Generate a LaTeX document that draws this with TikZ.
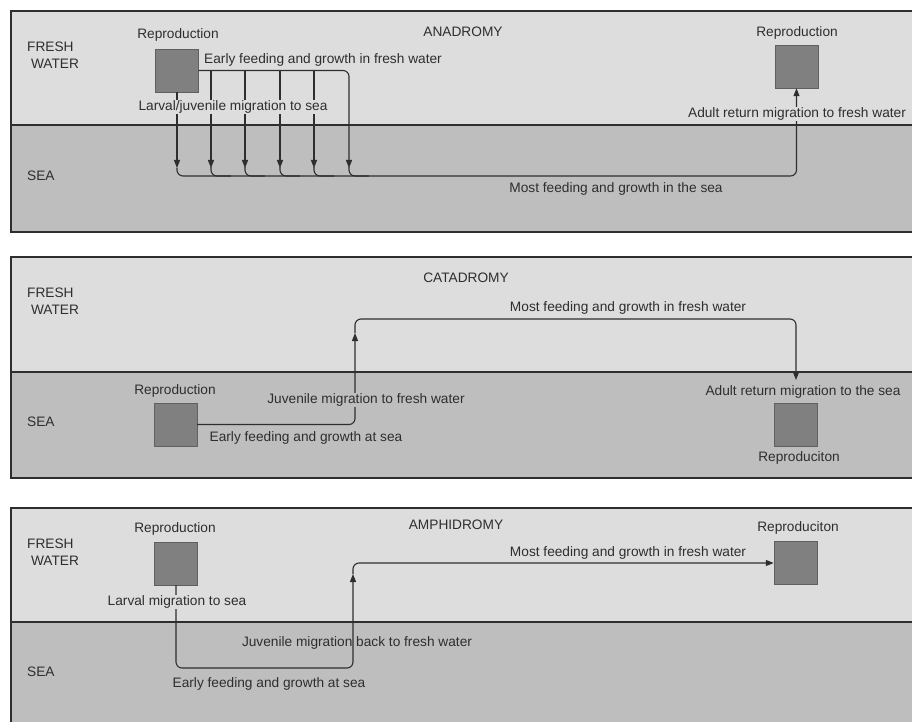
\documentclass[tikz,border=0pt]{standalone}
\usepackage{fontspec}
\setmainfont{Liberation Sans}
\usetikzlibrary{arrows.meta}
\definecolor{fresh}{HTML}{DDDDDD}
\definecolor{salt}{HTML}{BEBEBE}
\definecolor{repro}{HTML}{808080}
\definecolor{ink}{HTML}{2E2E2E}
\begin{document}
\begin{tikzpicture}[x=1pt,y=-1pt,every node/.style={font=\fontsize{13.7}{17}\selectfont,text=ink,inner sep=1pt},
	reprobox/.style={draw=repro!75!black,fill=repro,minimum width=43pt,minimum height=43pt,inner sep=0pt},
	flow/.style={draw=ink,line width=1.1pt,rounded corners=6pt},
	tip/.style={-{Triangle[length=8pt,width=6pt]}}]
		\useasboundingbox(0,0)rectangle(912,722);
		% the three panels
		\foreach\t/\m/\b in{11/125.5/232,257/372/478,508/622/740}{
			\fill[fresh](11,\t)rectangle(930,\m);
			\fill[salt](11,\m)rectangle(930,\b);
			\draw[ink,line width=2pt](11,\t)rectangle(930,\b);
			\draw[ink,line width=2pt](11,\m)--(930,\m);
			\node[anchor=west,align=left]at(26,\t+44){FRESH\\ \ WATER};
			\node[anchor=west]at(26,\m+50){SEA};}
		% boxes
		\node[reprobox](R1)at(177,70.5){};
		\node[reprobox](R1')at(796.5,66.5){};
		\node[reprobox](R2)at(175.5,424.5){};
		\node[reprobox](R2')at(795.5,424.5){};
		\node[reprobox](R3)at(176,563.5){};
		\node[reprobox](R3')at(795.5,563){};
		% anadromy
		\coordinate(J1)at(177,168);
		\coordinate(B1)at(796.5,176);
		\foreach\x in{211,245,280,314}{\draw[flow,tip](\x,70)--(\x,168);}
		\foreach\x in{211,245,280,314,349}{\draw[flow](\x,167)|-(\x+20,176);}
		\draw[flow,tip](R1.east)-|(349,168);
		\draw[flow,tip](R1.south)--(J1);
		\draw[flow,tip](J1)|-(B1)--(R1'.south);
		% catadromy
		\coordinate(U2)at(355,333);
		\coordinate(B2)at(796,319);
		\coordinate(D2)at(796,380);
		\draw[flow,tip](R2.east)-|(U2);
		\draw[flow,tip](U2)|-(B2)--(D2);
		% amphidromy
		\coordinate(U3)at(353,574);
		\draw[flow,tip](R3.south)|-(353,668)--(U3);
		\draw[flow,tip](U3)|-(R3'.west);
		% texts
		\node(T1)at(463,32){ANADROMY};
		\node(T2)at(466,278){CATADROMY};
		\node(T3)at(456,525){AMPHIDROMY};
		\node(L1)at(178,35){Reproduction};
		\node(L1')at(797,33){Reproduction};
		\node(L2)at(175,391){Reproduction};
		\node(L2')at(799,458){Reproduciton};
		\node(L3)at(175,529){Reproduction};
		\node(L3')at(798,528){Reproduciton};
		\node[anchor=west](A1)at(203,60){Early feeding and growth in fresh water};
		\node[fill=fresh](A2)at(233,107){Larval/juvenile migration to sea};
		\node[fill=fresh](A3)at(797,114){Adult return migration to fresh water};
		\node(A4)at(616,189){Most feeding and growth in the sea};
		\node[fill=salt](C1)at(366,400){Juvenile migration to fresh water};
		\node(C2)at(306,438){Early feeding and growth at sea};
		\node(C3)at(628,308){Most feeding and growth in fresh water};
		\node[fill=salt](C4)at(803,392){Adult return migration to the sea};
		\node[fill=fresh](M1)at(177,602){Larval migration to sea};
		\node(M2)at(357,643){Juvenile migration back to fresh water};
		\node(M3)at(269,684){Early feeding and growth at sea};
		\node(M4)at(628,553){Most feeding and growth in fresh water};
\end{tikzpicture}
\end{document}
